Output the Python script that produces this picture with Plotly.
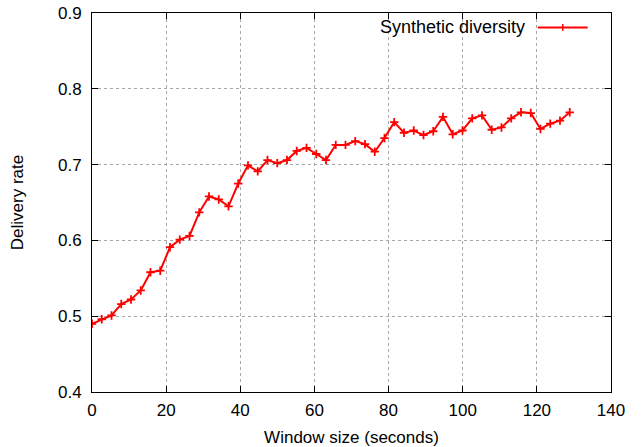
import plotly.graph_objects as go

window_size = [0.0, 2.63, 5.26, 7.89, 10.52, 13.15, 15.78, 18.41, 21.04, 23.67,
               26.3, 28.93, 31.56, 34.19, 36.82, 39.45, 42.08, 44.71, 47.34, 49.97,
               52.6, 55.23, 57.86, 60.49, 63.12, 65.75, 68.38, 71.01, 73.64, 76.27,
               78.9, 81.53, 84.16, 86.79, 89.42, 92.05, 94.68, 97.31, 99.94, 102.57,
               105.2, 107.83, 110.46, 113.09, 115.72, 118.35, 120.98, 123.61, 126.24, 128.87]
delivery_rate = [0.490, 0.496, 0.501, 0.516, 0.522, 0.534, 0.558, 0.560, 0.591, 0.601,
                 0.606, 0.637, 0.658, 0.654, 0.645, 0.675, 0.699, 0.691, 0.706, 0.702,
                 0.706, 0.718, 0.722, 0.714, 0.706, 0.726, 0.726, 0.731, 0.727, 0.717,
                 0.735, 0.756, 0.742, 0.745, 0.739, 0.744, 0.763, 0.740, 0.745, 0.761,
                 0.765, 0.746, 0.749, 0.761, 0.769, 0.768, 0.747, 0.754, 0.758, 0.769]
series_name = "Synthetic diversity"
x_ticks = [0, 20, 40, 60, 80, 100, 120, 140]
y_ticks = [0.4, 0.5, 0.6, 0.7, 0.8, 0.9]

RED = "#ff0000"
FONT = "Liberation Sans, Arial, sans-serif"
FS = 17

fig = go.Figure()
fig.add_trace(go.Scatter(
    x=window_size, y=delivery_rate, mode="lines+markers", name=series_name,
    line=dict(color=RED, width=2),
    marker=dict(symbol="cross-thin", size=6, color=RED, line=dict(color=RED, width=1.8)),
    showlegend=False,
))

axis_common = dict(
    showline=True, linecolor="black", linewidth=1, mirror="allticks",
    ticks="inside", ticklen=6, tickcolor="black", tickwidth=1,
    showgrid=True, gridcolor="#a8a8a8", gridwidth=1, griddash="dot",
    zeroline=False, automargin=False,
    tickfont=dict(family=FONT, size=FS, color="black"),
    title_font=dict(family=FONT, size=FS, color="black"),
)

fig.update_xaxes(range=[0, 140], tickvals=x_ticks, ticktext=[str(v) for v in x_ticks],
                 title_text="Window size (seconds)", title_standoff=11, ticklabelstandoff=3,
                 **axis_common)
fig.update_yaxes(range=[0.4, 0.9], tickvals=y_ticks, ticktext=[f"{v:.1f}" for v in y_ticks],
                 title_text="Delivery rate", title_standoff=30, ticklabelstandoff=6, **axis_common)

# Legend (gnuplot style: text left of sample)
fig.add_annotation(xref="paper", yref="paper", x=0.838, y=0.962, xanchor="right", yanchor="middle",
                   text=series_name, showarrow=False, font=dict(family=FONT, size=FS + 1, color="black"))
fig.add_shape(type="line", xref="paper", yref="paper", x0=0.859, x1=0.955, y0=0.962, y1=0.962,
              line=dict(color=RED, width=2))
fig.add_shape(type="line", xref="paper", yref="paper", x0=0.907, x1=0.907, y0=0.953, y1=0.971,
              line=dict(color=RED, width=1.5))

fig.update_layout(
    width=641, height=447,
    margin=dict(l=92, r=30, t=13, b=55),
    paper_bgcolor="white", plot_bgcolor="white",
    font=dict(family=FONT, size=FS, color="black"),
)

fig.write_html("out.html")
